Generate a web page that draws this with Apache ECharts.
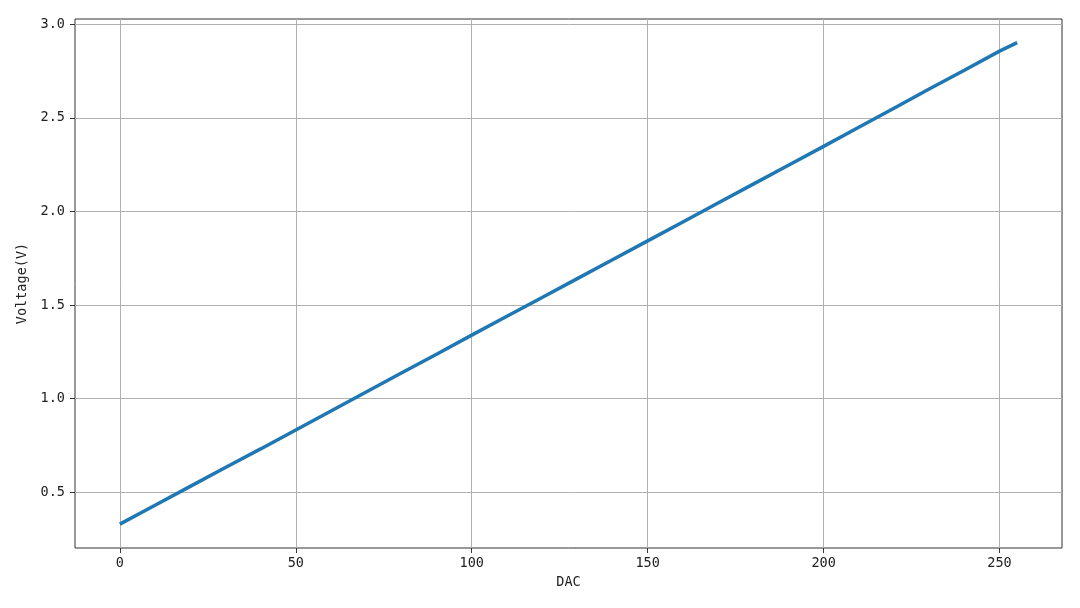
<!DOCTYPE html>
<html>
<head>
<meta charset="utf-8">
<style>
    html, body { margin: 0; padding: 0; background: #fff; }
    #chart { width: 1080px; height: 608px; }
</style>
</head>
<body>
<div id="chart"></div>
<script type="text/javascript" src="https://cdn.jsdelivr.net/npm/echarts@6/dist/echarts.min.js"></script>
<script type="text/javascript">
    // readings
    var dacSteps = [0, 10, 20, 30, 40, 50, 60, 70, 80, 90, 100, 110, 120, 130, 140, 150,
                    160, 170, 180, 190, 200, 210, 220, 230, 240, 250, 255];
    var voltages = [0.329, 0.430, 0.531, 0.632, 0.731, 0.832, 0.934, 1.035, 1.137, 1.237,
                    1.339, 1.440, 1.540, 1.641, 1.742, 1.843, 1.944, 2.045, 2.146, 2.247,
                    2.348, 2.450, 2.552, 2.654, 2.755, 2.857, 2.902];
    var xTicks = [0, 50, 100, 150, 200, 250];
    var yTicks = [0.5, 1.0, 1.5, 2.0, 2.5, 3.0];

    var font = 'DejaVu Sans Mono';
    var chart = echarts.init(document.getElementById('chart'));

    var points = dacSteps.map(function (d, i) { return [d, voltages[i]]; });

    var option = {
        animation: false,
        backgroundColor: '#fff',
        grid: {
            left: 75,
            right: 18,
            top: 19,
            bottom: 60,
            show: true,
            borderColor: '#333',
            borderWidth: 1
        },
        xAxis: {
            type: 'value',
            min: -12.75,
            max: 267.75,
            name: 'DAC',
            nameLocation: 'middle',
            nameGap: 27,
            nameTextStyle: { fontFamily: font, fontSize: 13.5, color: '#222' },
            axisLine: { show: false, onZero: false },
            axisTick: { show: true, length: 5, lineStyle: { color: '#333' }, customValues: xTicks },
            axisLabel: { customValues: xTicks, fontFamily: font, fontSize: 13.5, color: '#222', margin: 8 },
            splitLine: { show: true, lineStyle: { color: '#b0b0b0', width: 1 } }
        },
        yAxis: {
            type: 'value',
            min: 0.2015,
            max: 3.0285,
            name: 'Voltage(V)',
            nameLocation: 'middle',
            nameGap: 42,
            nameTextStyle: { fontFamily: font, fontSize: 13.5, color: '#222' },
            axisLine: { show: false, onZero: false },
            axisTick: { show: true, length: 5, lineStyle: { color: '#333' }, customValues: yTicks },
            axisLabel: {
                customValues: yTicks,
                fontFamily: font, fontSize: 13.5, color: '#222', margin: 10,
                formatter: function (v) { return v.toFixed(1); }
            },
            splitLine: { show: true, lineStyle: { color: '#b0b0b0', width: 1 } }
        },
        series: [{
            type: 'line',
            data: points,
            showSymbol: false,
            lineStyle: { color: '#1f77b4', width: 3.5 }
        }]
    };

    chart.setOption(option);
</script>
</body>
</html>
